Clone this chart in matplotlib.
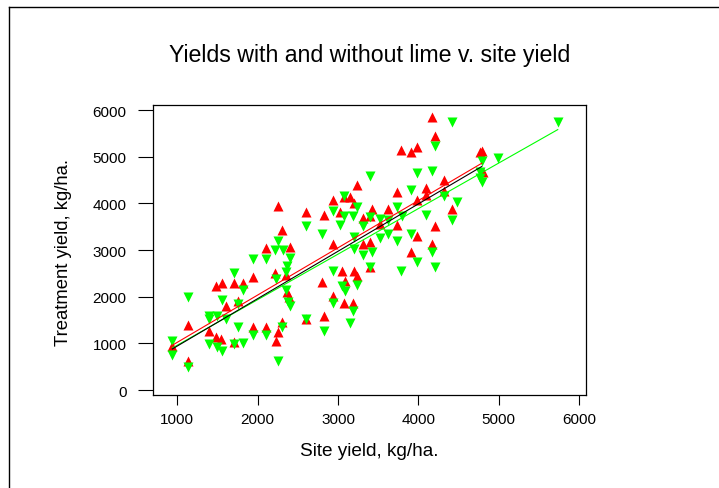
import numpy as np
import matplotlib
matplotlib.use('Agg')
import matplotlib.pyplot as plt
from matplotlib.lines import Line2D

plt.rcParams['font.family'] = ['Liberation Sans', 'DejaVu Sans']

# valores (kg/ha)
site_red = [938, 1137, 1137, 1394, 1481, 1544, 1481, 1552, 1602, 1751, 1705, 1822,
            1710, 1946, 1946, 2100, 2100, 2249, 2307, 2403, 2216, 2349, 2361, 2390,
            2307, 2249, 2224, 2598, 2598, 2805, 2830, 2830, 2942, 2942, 2942, 3025,
            4165, 4207, 3979, 3909, 3785, 4764, 4797, 4805, 3236, 3071, 3153, 3195,
            3732, 4095, 4095, 4318, 4318, 3979, 3422, 3628, 3310, 3401, 3525, 3732,
            4425, 4207, 3979, 4165, 3909, 3310, 3401, 3401, 3050, 3203, 3236, 3091,
            3071, 3186]
yield_red = [950, 1392, 614, 1257, 1142, 1092, 2235, 2285, 1792, 1914, 2285, 2285,
             1021, 2428, 1342, 1342, 3042, 3934, 3434, 3056, 2506, 2470, 2092, 1985,
             1464, 1235, 1042, 1521, 3806, 2306, 3749, 1592, 3127, 2006, 4070, 3806,
             5841, 5448, 5198, 5091, 5148, 5091, 5127, 4677, 4391, 4127, 4127, 4006,
             4248, 4320, 4177, 4505, 4270, 4077, 3877, 3877, 3684, 3734, 3556, 3534,
             3877, 3506, 3306, 3127, 2949, 3127, 3177, 2627, 2556, 2556, 2435, 2342,
             1864, 1856]

site_green = [938, 938, 1137, 1137, 1394, 1394, 1490, 1394, 1490, 1552, 1552, 1602,
              1751, 1751, 1705, 1822, 1705, 1822, 1946, 1946, 2100, 2100, 2249, 2216,
              2311, 2403, 2361, 2349, 2224, 2349, 2382, 2403, 2307, 2249, 2598, 2598,
              2805, 2830, 2942, 2942, 2942, 3025,
              4425, 5735, 4207, 4991, 4165, 3979, 3401, 4797, 4764, 4764, 4797, 3071,
              3909, 4318, 4475, 3236, 3732, 4095, 4425, 3079, 3186, 3310, 3401, 3525,
              3628, 3794, 3628, 3525, 3203, 3732, 3909, 3203, 3422, 3310, 4165, 3979,
              4207, 3785, 3401, 3050, 3091, 3236, 3186, 3153]
yield_green = [1042, 750, 1999, 500, 1592, 1521, 1592, 985, 914, 843, 1935, 1521,
               1357, 1842, 2499, 2149, 985, 1000, 2806, 1178, 2806, 1178, 3199, 3006,
               3006, 2820, 2663, 2520, 2378, 2149, 1892, 1806, 1357, 614, 1521, 3520,
               3342, 1257, 2556, 1864, 3841, 3534,
               5733, 5733, 5234, 4962, 4691, 4648, 4591, 4912, 4662, 4534, 4448, 4163,
               4291, 4148, 4020, 3913, 3913, 3749, 3649, 3720, 3720, 3520, 3699, 3663,
               3649, 3720, 3342, 3249, 3270, 3199, 3342, 3020, 2949, 2892, 2949, 2749,
               2627, 2556, 2642, 2235, 2128, 2249, 1699, 1435]

# retas (extremos)
line_red_x = [938, 4790]
line_red_y = [960, 4860]
line_green_x = [938, 5735]
line_green_y = [900, 5580]
line_black_x = [938, 4790]
line_black_y = [880, 4790]

fig = plt.figure(figsize=(7.19, 4.89), dpi=100)
ax = fig.add_axes([0.2124, 0.1908, 0.6030, 0.5924])

ax.scatter(site_red, yield_red, marker='^', s=52, color='#ff0000', linewidths=0, zorder=2)
ax.scatter(site_green, yield_green, marker='v', s=52, color='#00ff00', linewidths=0, zorder=3)

ax.plot(line_red_x, line_red_y, color='#ff0000', lw=0.8, zorder=4)
ax.plot(line_green_x, line_green_y, color='#00ff00', lw=0.8, zorder=4)
ax.plot(line_black_x, line_black_y, color='black', lw=0.8, zorder=5)

ax.set_xlim(694, 6090)
ax.set_ylim(-100, 6107)
ax.set_xticks([1000, 2000, 3000, 4000, 5000, 6000])
ax.set_yticks([0, 1000, 2000, 3000, 4000, 5000, 6000])
ax.tick_params(axis='x', length=7, width=0.8, pad=5.5, labelsize=11)
ax.tick_params(axis='y', length=10.8, width=0.8, pad=7.9, labelsize=11)
for sp in ax.spines.values():
    sp.set_linewidth(0.9)

ax.set_xlabel('Site yield, kg/ha.', fontsize=13.7, va='center')
ax.set_ylabel('Treatment yield, kg/ha.', fontsize=13.3, va='center')
ax.xaxis.set_label_coords(0.5, -0.191)
ax.yaxis.set_label_coords(-0.205, 0.496)
ax.set_title('Yields with and without lime v. site yield', fontsize=16.7,
             y=1.176, va='center', pad=0)

# moldura da figura (so esquerda e topo)
fig.add_artist(Line2D([9 / 719, 9 / 719], [0, 1 - 8 / 489], color='black', lw=1))
fig.add_artist(Line2D([9 / 719, 1], [1 - 8 / 489, 1 - 8 / 489], color='black', lw=1))

fig.savefig('out.png', dpi=100)
